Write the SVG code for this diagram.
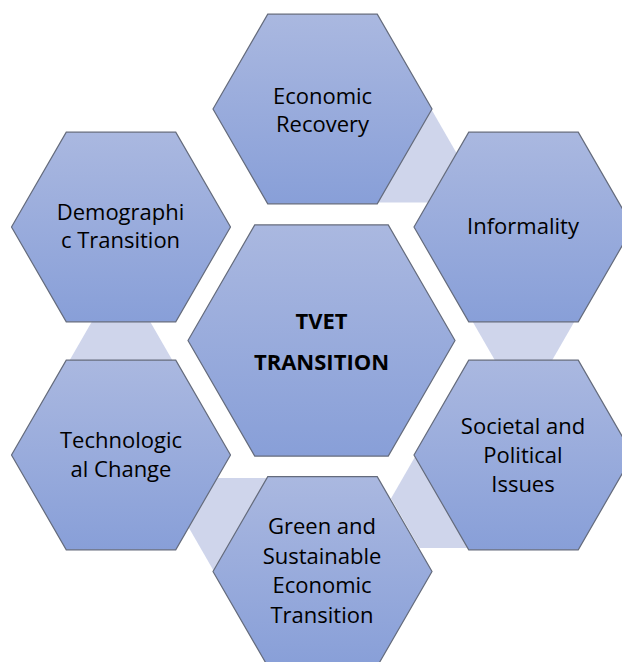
<svg xmlns="http://www.w3.org/2000/svg" width="622" height="662" viewBox="0 0 622 662">
  <defs>
    <linearGradient id="hexFill" x1="0" y1="0" x2="0" y2="1">
      <stop offset="0" stop-color="#AAB8E0"/>
      <stop offset="1" stop-color="#889FD8"/>
    </linearGradient>
  </defs>
  <style>
    .hex { fill: url(#hexFill); stroke: #646B7C; stroke-width: 1.2; stroke-linejoin: miter; }
    .conn { fill: #CFD5EB; stroke: none; }
    .lbl { font-family: "Open Sans", "Liberation Sans", sans-serif; font-size: 22px; fill: #000; text-anchor: middle; }
    .bold { font-weight: bold; }
  </style>
  <rect width="622" height="662" fill="#FFFFFF"/>

  <g id="connectors">
    <polygon class="conn" points="342.5,153 371,103.6 428,103.6 456.5,153 428,202.4 371,202.4"/>
    <polygon class="conn" points="466.5,311 495,261.6 552,261.6 580.5,311 552,360.4 495,360.4"/>
    <polygon class="conn" points="391,498.5 419.5,449.1 476.5,449.1 505,498.5 476.5,547.9 419.5,547.9"/>
    <polygon class="conn" points="188.7,527.5 217.2,478.1 274.2,478.1 302.7,527.5 274.2,576.9 217.2,576.9"/>
    <polygon class="conn" points="64,370 92.5,320.6 149.5,320.6 178,370 149.5,419.4 92.5,419.4"/>
  </g>

  <g id="economic-recovery">
    <polygon class="hex" points="213,109 267.75,14.2 377.25,14.2 432,109 377.25,203.8 267.75,203.8"/>
    <text class="lbl" x="322.5" y="103.5">Economic</text>
    <text class="lbl" x="322.5" y="132">Recovery</text>
  </g>

  <g id="informality">
    <polygon class="hex" points="414,227 468.75,132.2 578.25,132.2 633,227 578.25,321.8 468.75,321.8"/>
    <text class="lbl" x="523" y="234">Informality</text>
  </g>

  <g id="societal-political">
    <polygon class="hex" points="414,455 468.75,360.2 578.25,360.2 633,455 578.25,549.8 468.75,549.8"/>
    <text class="lbl" x="523" y="433.5">Societal and</text>
    <text class="lbl" x="523" y="462.5">Political</text>
    <text class="lbl" x="523" y="491.5">Issues</text>
  </g>

  <g id="green-sustainable">
    <polygon class="hex" points="213,571.5 267.75,476.7 377.25,476.7 432,571.5 377.25,666.3 267.75,666.3"/>
    <text class="lbl" x="322" y="534">Green and</text>
    <text class="lbl" x="322" y="563.5">Sustainable</text>
    <text class="lbl" x="322" y="593">Economic</text>
    <text class="lbl" x="322" y="622.5">Transition</text>
  </g>

  <g id="technological-change">
    <polygon class="hex" points="11.5,455 66.25,360.2 175.75,360.2 230.5,455 175.75,549.8 66.25,549.8"/>
    <text class="lbl" x="121" y="448">Technologic</text>
    <text class="lbl" x="121" y="477">al Change</text>
  </g>

  <g id="demographic-transition">
    <polygon class="hex" points="11.5,227 66.25,132.2 175.75,132.2 230.5,227 175.75,321.8 66.25,321.8"/>
    <text class="lbl" x="120.5" y="219.5">Demographi</text>
    <text class="lbl" x="120.5" y="248">c Transition</text>
  </g>

  <g id="tvet-transition">
    <polygon class="hex" points="188,340.5 254.75,224.9 388.25,224.9 455,340.5 388.25,456.1 254.75,456.1"/>
    <text class="lbl bold" x="321.5" y="328.5">TVET</text>
    <text class="lbl bold" x="321.5" y="369.5">TRANSITION</text>
  </g>
</svg>
